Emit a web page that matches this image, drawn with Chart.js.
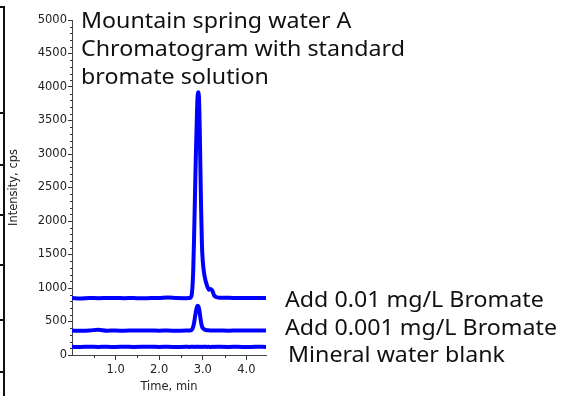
<!DOCTYPE html>
<html>
<head>
<meta charset="utf-8">
<script src="https://cdn.jsdelivr.net/npm/chart.js@4"></script>
<style>
  body { margin: 0; background: #fff; }
  #wrap { position: relative; width: 576px; height: 396px; overflow: hidden; }
  /* bit of the neighbouring panel that is cut off on the left */
  .frame { position: absolute; left: 0; top: 6px; width: 3px; height: 392px; border-right: 2px solid #111; border-top: 2px solid #111; }
  .nb { position: absolute; left: 0; width: 5px; height: 2px; background: #111; }
</style>
</head>
<body>
<div id="wrap">
  <canvas id="chartContainer" width="576" height="396"></canvas>
  <div class="frame"></div>
  <div class="nb" style="top:112px"></div>
  <div class="nb" style="top:164px"></div>
  <div class="nb" style="top:214px"></div>
  <div class="nb" style="top:264px"></div>
  <div class="nb" style="top:319px"></div>
  <div class="nb" style="top:371px"></div>
</div>
<script>
// retention time (min), shared by all three traces
const times = [0, 0.2, 0.4, 0.6, 0.8, 1.0, 1.2, 1.4, 1.6, 1.8, 2.0, 2.2, 2.4, 2.6, 2.7, 2.74, 2.78, 2.8, 2.82, 2.84,
    2.86, 2.88, 2.9, 2.92, 2.94, 2.96, 2.98, 3.0, 3.03, 3.06, 3.1, 3.14, 3.18, 3.22, 3.26, 3.32, 3.4, 3.6, 3.8, 4.0, 4.2, 4.45];

// intensity, cps
const add001 = [850, 845, 850, 848, 850, 852, 848, 850, 847, 850, 852, 860, 850, 848, 850, 880, 1250, 1750, 2350, 2950,
    3450, 3850, 3920, 3700, 3000, 2250, 1650, 1400, 1220, 1120, 1030, 975, 985, 960, 890, 862, 855, 855, 850, 852, 850, 850];
const add0001 = [365, 362, 365, 378, 363, 365, 362, 366, 364, 365, 363, 365, 362, 365, 366, 372, 420, 480, 560, 640,
    700, 735, 725, 670, 580, 490, 430, 400, 385, 375, 370, 368, 366, 365, 364, 366, 365, 363, 366, 364, 365, 365];
const blank = [122, 120, 123, 121, 122, 120, 123, 121, 122, 124, 121, 122, 120, 122, 121, 122, 123, 121, 122, 121,
    122, 123, 122, 121, 122, 120, 122, 121, 123, 122, 121, 122, 120, 122, 121, 123, 122, 121, 122, 120, 122, 121];

const titleLines = ['Mountain spring water A', 'Chromatogram with standard', 'bromate solution'];
const traceLabels = ['Add 0.01 mg/L Bromate', 'Add 0.001 mg/L Bromate', 'Mineral water blank'];
const xTickLabels = [1, 2, 3, 4];

function pts(vals) {
    return times.map(function (t, i) { return { x: t, y: vals[i] }; });
}

// minor ticks + the free text (title block and trace labels)
const extras = {
    id: 'extras',
    afterDraw: function (chart) {
        const ctx = chart.ctx;
        const xs = chart.scales.x, ys = chart.scales.y;
        ctx.save();
        ctx.strokeStyle = '#333';
        ctx.lineWidth = 1;
        ctx.beginPath();
        for (let v = 100; v < ys.max; v += 100) {
            if (v % 500 === 0) continue;
            const py = Math.round(ys.getPixelForValue(v)) + 0.5;
            ctx.moveTo(xs.left - 2, py);
            ctx.lineTo(xs.left, py);
        }
        for (let v = 0.5; v < xs.max; v += 1) {
            const px = Math.round(xs.getPixelForValue(v)) + 0.5;
            ctx.moveTo(px, ys.bottom);
            ctx.lineTo(px, ys.bottom + 3);
        }
        ctx.stroke();

        ctx.fillStyle = '#111';
        ctx.font = '22px "Noto Sans"';
        ctx.textBaseline = 'alphabetic';
        // squeeze horizontally to match the narrow face of the original
        const sq = 272 / ctx.measureText(traceLabels[1]).width;
        titleLines.forEach(function (s, i) {
            ctx.save();
            ctx.translate(81, 28 + i * 28);
            ctx.scale(sq, 1);
            ctx.fillText(s, 0, 0);
            ctx.restore();
        });
        const lx = [285, 285, 288];
        traceLabels.forEach(function (s, i) {
            ctx.save();
            ctx.translate(lx[i], 307 + i * 27.5);
            ctx.scale(sq, 1);
            ctx.fillText(s, 0, 0);
            ctx.restore();
        });
        ctx.restore();
    }
};

function createGraph() {
    const ctx = document.getElementById('chartContainer').getContext('2d');
    const tickFont = { family: 'DejaVu Sans', size: 11.5 };

    window.myLineChart = new Chart(ctx, {
        type: 'line',
        data: {
            datasets: [
                { label: traceLabels[0], data: pts(add001) },
                { label: traceLabels[1], data: pts(add0001) },
                { label: traceLabels[2], data: pts(blank) }
            ]
        },
        options: {
            responsive: false,
            animation: false,
            layout: { padding: { left: 0, right: 310, top: 20, bottom: 0 } },
            elements: {
                line: { borderColor: '#0000ff', borderWidth: 4, cubicInterpolationMode: 'monotone' },
                point: { radius: 0 }
            },
            scales: {
                x: {
                    type: 'linear',
                    min: 0,
                    max: 4.45,
                    afterFit: function (s) { s.height = 41; },
                    border: { color: '#444', width: 1 },
                    grid: {
                        drawOnChartArea: false,
                        tickLength: 5,
                        tickColor: function (c) {
                            return xTickLabels.indexOf(c.tick && c.tick.value) >= 0 ? '#333' : 'rgba(0,0,0,0)';
                        }
                    },
                    ticks: {
                        stepSize: 1,
                        includeBounds: false,
                        padding: 3,
                        maxRotation: 0,
                        autoSkip: false,
                        color: '#222',
                        font: tickFont,
                        callback: function (v) { return xTickLabels.indexOf(v) >= 0 ? v.toFixed(1) : ''; }
                    },
                    title: { display: true, text: 'Time, min', color: '#222', font: tickFont, padding: { top: 0, bottom: 2 } }
                },
                y: {
                    min: 0,
                    max: 5000,
                    afterFit: function (s) { s.width = 72; },
                    border: { color: '#444', width: 1 },
                    grid: { drawOnChartArea: false, tickLength: 4, tickColor: '#333' },
                    ticks: {
                        stepSize: 500,
                        padding: 1,
                        color: '#222',
                        font: tickFont,
                        callback: function (v) { return String(v); }
                    },
                    title: { display: true, text: 'Intensity, cps', color: '#222', font: tickFont, padding: { top: 7, bottom: 0 } }
                }
            },
            plugins: {
                legend: { display: false },
                tooltip: { enabled: false }
            }
        },
        plugins: [extras]
    });
}

createGraph();
</script>
</body>
</html>
